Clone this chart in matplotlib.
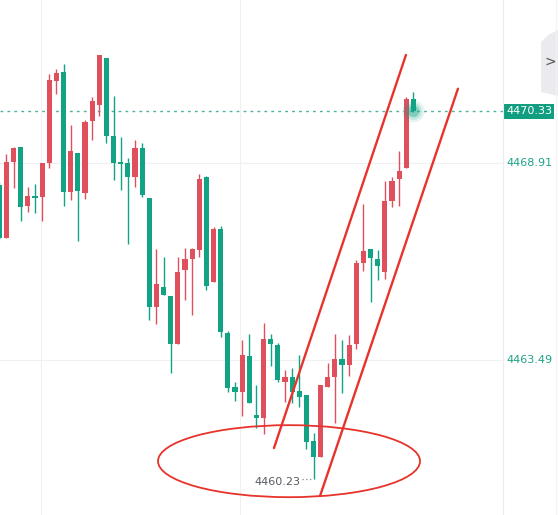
import matplotlib
matplotlib.use("Agg")
import matplotlib.pyplot as plt
from matplotlib.patches import Ellipse, Polygon
import numpy as np

# ---- data (OHLC) ----
opens = [4468.30, 4466.85, 4468.94, 4469.35, 4467.73, 4468.00, 4467.97, 4468.91, 4471.17, 4471.41,
         4468.11, 4469.19, 4468.08, 4470.07, 4470.51, 4471.80, 4469.65, 4468.91, 4468.91, 4468.52,
         4469.32, 4467.95, 4464.95, 4465.50, 4465.25, 4463.93, 4465.97, 4466.27, 4466.52, 4468.52,
         4465.64, 4467.09, 4464.23, 4462.75, 4462.61, 4463.60, 4461.98, 4461.90, 4464.07, 4463.90,
         4462.89, 4463.02, 4462.64, 4462.53, 4461.26, 4460.82, 4462.75, 4463.02, 4463.52, 4463.35,
         4463.93, 4466.16, 4466.54, 4466.27, 4465.91, 4467.86, 4468.47, 4468.77, 4470.67]
highs = [4468.39, 4469.16, 4469.35, 4469.35, 4468.25, 4468.33, 4468.91, 4471.36, 4471.50, 4471.63,
         4469.96, 4469.19, 4470.09, 4470.73, 4471.88, 4471.80, 4470.75, 4469.63, 4469.05, 4469.54,
         4469.46, 4467.95, 4466.54, 4466.32, 4465.25, 4466.32, 4466.57, 4466.57, 4468.61, 4468.55,
         4467.15, 4467.18, 4464.29, 4462.89, 4464.04, 4464.21, 4462.80, 4464.51, 4464.21, 4463.96,
         4463.22, 4463.27, 4463.63, 4462.53, 4461.48, 4462.80, 4463.41, 4464.21, 4464.04, 4464.18,
         4466.24, 4467.78, 4466.54, 4466.52, 4468.41, 4468.52, 4469.24, 4470.73, 4470.86]
lows = [4466.79, 4466.85, 4468.22, 4467.31, 4467.56, 4467.53, 4467.31, 4468.77, 4470.81, 4467.73,
        4467.89, 4466.76, 4467.92, 4469.54, 4470.20, 4469.46, 4468.44, 4468.17, 4466.68, 4468.25,
        4467.97, 4464.59, 4464.48, 4465.28, 4463.13, 4463.93, 4465.14, 4464.73, 4466.32, 4465.42,
        4465.64, 4464.12, 4462.61, 4462.36, 4461.95, 4462.31, 4461.62, 4461.46, 4463.33, 4462.89,
        4462.34, 4462.31, 4462.20, 4461.04, 4460.23, 4460.82, 4462.75, 4461.76, 4462.58, 4463.05,
        4463.79, 4465.94, 4465.09, 4465.69, 4465.72, 4467.70, 4467.73, 4468.77, 4470.31]
closes = [4466.85, 4468.94, 4469.32, 4467.70, 4468.00, 4467.95, 4468.91, 4471.19, 4471.39, 4468.11,
          4469.24, 4468.14, 4470.04, 4470.62, 4471.88, 4469.65, 4468.91, 4468.88, 4468.52, 4469.32,
          4468.03, 4464.95, 4465.58, 4465.28, 4463.93, 4465.91, 4466.27, 4466.54, 4468.47, 4465.53,
          4467.09, 4464.26, 4462.72, 4462.61, 4463.63, 4462.31, 4461.90, 4464.07, 4463.93, 4462.94,
          4463.02, 4462.61, 4462.47, 4461.23, 4460.82, 4462.80, 4463.02, 4463.52, 4463.35, 4463.90,
          4466.16, 4466.49, 4466.30, 4466.08, 4467.86, 4468.41, 4468.69, 4470.67, 4470.33]

axis_prices = [4468.91, 4463.49]
last_price = 4470.33
low_price = 4460.23

# channel lines drawn on chart (bar index, price)
channel_upper = [(38.46, 4461.07), (56.95, 4471.88)]
channel_lower = [(44.91, 4459.75), (64.23, 4470.95)]
ellipse_center = (40.57, 4460.71)
ellipse_size = (36.7, 1.98)

UP = "#e0505c"
DOWN = "#11a384"
LINE_RED = "#e8332c"

W, H = 558, 515
fig = plt.figure(figsize=(W / 100, H / 100), dpi=100)
fig.patch.set_facecolor("white")
ax = fig.add_axes([0, 0, 503 / W, 1])
ax.set_xlim(0.09, 70.54)
ax.set_ylim(4459.23, 4473.39)
ax.axis("off")

# grid
for gp in axis_prices:
    ax.axhline(gp, color="#f0f0f3", lw=0.8, zorder=0)
for gx in [5.8, 33.7]:
    ax.axvline(gx, color="#f0f0f3", lw=0.8, zorder=0)

n = len(opens)
xs = np.arange(n)
for i in range(n):
    o, h, l, c = opens[i], highs[i], lows[i], closes[i]
    col = UP if c >= o else DOWN
    ax.vlines(xs[i], l, h, color=col, lw=1.0, zorder=2)
    bot = min(o, c)
    ht = max(abs(c - o), 0.05)
    ax.bar(xs[i], ht, bottom=bot, width=0.72, color=col, edgecolor="none", zorder=3)

# last price dotted line and glow
ax.axhline(last_price, color="#4db3a0", lw=1.0, ls=(0, (2, 3)), zorder=1)
for s, a in [(260, 0.10), (150, 0.18), (70, 0.35)]:
    ax.scatter([xs[-1]], [last_price], s=s, color=DOWN, alpha=a, edgecolor="none", zorder=4)

# channel lines
for seg in (channel_upper, channel_lower):
    ax.plot([seg[0][0], seg[1][0]], [seg[0][1], seg[1][1]], color=LINE_RED, lw=1.7,
            solid_capstyle="round", zorder=5)
ax.add_patch(Ellipse(ellipse_center, ellipse_size[0], ellipse_size[1], fill=False,
                     edgecolor=LINE_RED, lw=1.3, zorder=5))

# low label
ilow = int(np.argmin(lows))
ax.text(xs[ilow] - 1.9, low_price - 0.08, f"{low_price:.2f}", color="#555a60", fontsize=8,
        ha="right", va="center", zorder=6)
ax.plot([xs[ilow] - 1.6, xs[ilow] - 0.2], [low_price, low_price], color="#888888", lw=0.9,
        ls=(0, (1, 2)), zorder=6)

# right price axis
fig.add_artist(plt.Line2D([503 / W, 503 / W], [0, 1], color="#ececf0", lw=0.8))
fig.add_artist(plt.Line2D([556 / W, 556 / W], [0, 1], color="#f3f3f6", lw=0.8))
ytr = ax.get_yaxis_transform()
for p in axis_prices:
    ax.text(1.006, p, f"{p:.2f}", transform=ytr, color="#1ea287", fontsize=8,
            ha="left", va="center", clip_on=False)
ax.text(1.006, last_price, f"{last_price:.2f}", transform=ytr, color="white", fontsize=8,
        ha="left", va="center", clip_on=False,
        bbox=dict(boxstyle="square,pad=0.22", facecolor="#119e80", edgecolor="none"))

# collapse tab at top-right
tab = Polygon([(548 / W, 1 - 35 / H), (558 / W, 1 - 30 / H), (558 / W, 1 - 96 / H),
               (541 / W, 1 - 92 / H), (541 / W, 1 - 42 / H)], closed=True,
              transform=fig.transFigure, facecolor="#ebebef", edgecolor="none")
fig.add_artist(tab)
fig.text(550 / W, 1 - 62 / H, ">", color="#555555", fontsize=10, ha="center", va="center")

fig.savefig("out.png", dpi=100, facecolor="white")
